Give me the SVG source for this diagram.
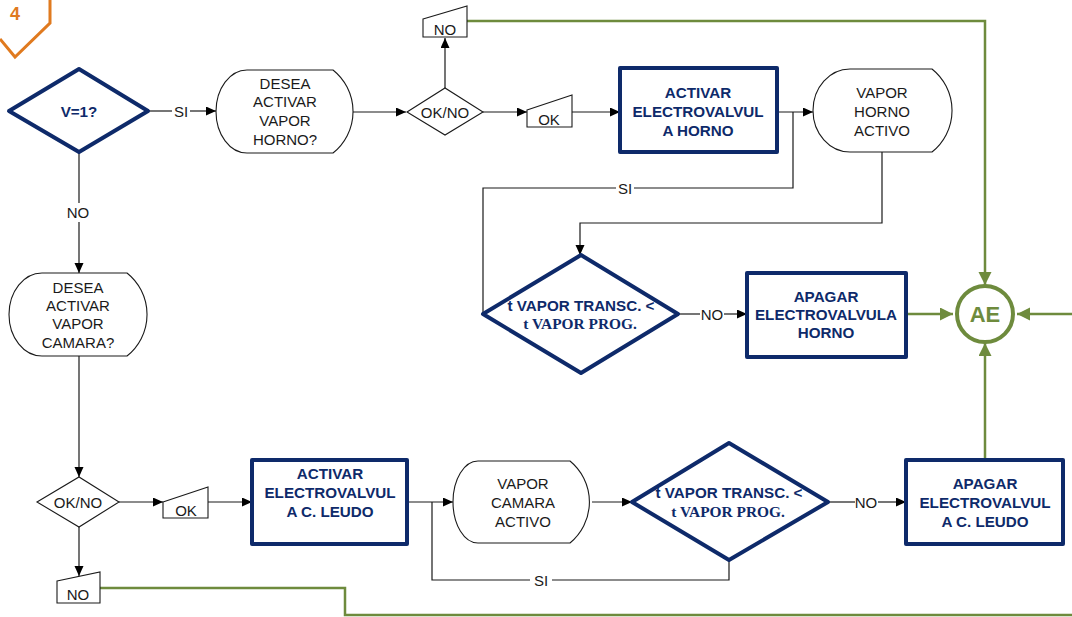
<svg xmlns="http://www.w3.org/2000/svg" width="1072" height="617" viewBox="0 0 1072 617">
  <defs>
    <style>
      .ln { fill: none; stroke: #1a1a1a; stroke-width: 1.2; }
      .gl { fill: none; stroke: #6E8B3D; stroke-width: 2.5; }
      .thin { fill: #ffffff; stroke: #1a1a1a; stroke-width: 1.1; }
      .navy { fill: #ffffff; stroke: #0E2A6A; stroke-width: 4; stroke-linejoin: round; }
      .t { font-family: "Liberation Sans", Arial, sans-serif; font-size: 15px; fill: #1a1a1a; text-anchor: middle; dominant-baseline: central; }
      .b { font-family: "Liberation Sans", Arial, sans-serif; font-size: 15.2px; font-weight: bold; fill: #0E2A6A; text-anchor: middle; dominant-baseline: central; }
      .bs { font-family: "Liberation Serif", "Times New Roman", serif; font-size: 15.4px; font-weight: bold; fill: #0E2A6A; text-anchor: middle; dominant-baseline: central; }
    </style>
    <marker id="ar" markerUnits="userSpaceOnUse" markerWidth="11" markerHeight="10" refX="10" refY="4.5" orient="auto">
      <path d="M0,0 L10,4.5 L0,9 z" fill="#000000"/>
    </marker>
    <marker id="ag" markerUnits="userSpaceOnUse" markerWidth="14" markerHeight="14" refX="13" refY="6.5" orient="auto">
      <path d="M0,0 L13,6.5 L0,13 z" fill="#6E8B3D"/>
    </marker>
  </defs>

  <!-- off-page connector -->
  <g id="offpage-4">
    <polyline points="0,39 15,57 50,23 50,0" fill="none" stroke="#E07A1F" stroke-width="3"/>
    <text x="15" y="14" font-family="Liberation Sans, Arial, sans-serif" font-size="18" font-weight="bold" fill="#E07A1F" text-anchor="middle" dominant-baseline="central">4</text>
  </g>

  <!-- connectors -->
  <g id="connectors">
    <line class="ln" x1="148" y1="111" x2="172" y2="111"/>
    <text class="t" x="181" y="111">SI</text>
    <line class="ln" x1="190" y1="111" x2="216" y2="111" marker-end="url(#ar)"/>
    <line class="ln" x1="353" y1="112" x2="406" y2="112" marker-end="url(#ar)"/>
    <line class="ln" x1="445" y1="88" x2="445" y2="38" marker-end="url(#ar)"/>
    <line class="ln" x1="483" y1="112" x2="527" y2="112" marker-end="url(#ar)"/>
    <line class="ln" x1="572" y1="112" x2="620" y2="112" marker-end="url(#ar)"/>
    <line class="ln" x1="777" y1="112" x2="813" y2="112" marker-end="url(#ar)"/>
    <polyline class="ln" points="793,112 793,188 634,188"/>
    <text class="t" x="625" y="188">SI</text>
    <polyline class="ln" points="616,188 483,188 483,314"/>
    <polyline class="ln" points="882,152 882,223 580,223 580,255" marker-end="url(#ar)"/>
    <line class="ln" x1="678" y1="314" x2="700" y2="314"/>
    <text class="t" x="712" y="314">NO</text>
    <line class="ln" x1="724" y1="314" x2="747" y2="314" marker-end="url(#ar)"/>

    <line class="ln" x1="79" y1="152" x2="79" y2="203"/>
    <text class="t" x="78" y="212">NO</text>
    <line class="ln" x1="79" y1="222" x2="79" y2="273" marker-end="url(#ar)"/>
    <line class="ln" x1="79" y1="356" x2="79" y2="477" marker-end="url(#ar)"/>
    <line class="ln" x1="119" y1="502" x2="163" y2="502" marker-end="url(#ar)"/>
    <line class="ln" x1="208" y1="502" x2="252" y2="502" marker-end="url(#ar)"/>
    <line class="ln" x1="407" y1="502" x2="453" y2="502" marker-end="url(#ar)"/>
    <polyline class="ln" points="432,502 432,580 530,580"/>
    <text class="t" x="541" y="580">SI</text>
    <polyline class="ln" points="552,580 729,580 729,560"/>
    <line class="ln" x1="592" y1="502" x2="632" y2="502" marker-end="url(#ar)"/>
    <line class="ln" x1="828" y1="502" x2="855" y2="502"/>
    <text class="t" x="866" y="502">NO</text>
    <line class="ln" x1="878" y1="502" x2="906" y2="502" marker-end="url(#ar)"/>
    <line class="ln" x1="79" y1="527" x2="79" y2="576" marker-end="url(#ar)"/>

    <polyline class="gl" points="467,21 985,21 985,285" marker-end="url(#ag)"/>
    <line class="gl" x1="906" y1="314" x2="953" y2="314" marker-end="url(#ag)"/>
    <line class="gl" x1="1072" y1="314" x2="1017" y2="314" marker-end="url(#ag)"/>
    <line class="gl" x1="985" y1="460" x2="985" y2="343" marker-end="url(#ag)"/>
    <polyline class="gl" points="100,588 345,588 345,615 1072,615"/>
  </g>

  <!-- nodes -->
  <g id="dec-v1">
    <polygon class="navy" points="79,69 148,111 79,152 9,111"/>
    <text class="b" x="79" y="111" font-size="18.5">V=1?</text>
  </g>

  <g id="ask-horno">
    <path class="thin" d="M247,70 L333,70 A53,53 0 0 1 333,153 L247,153 A31,41.5 0 0 1 247,70 Z"/>
    <text class="t" x="285" y="83">DESEA</text>
    <text class="t" x="285" y="101">ACTIVAR</text>
    <text class="t" x="285" y="120">VAPOR</text>
    <text class="t" x="285" y="139">HORNO?</text>
  </g>

  <g id="okno-horno">
    <polygon class="thin" points="407,112 445,88 483,112 445,135"/>
    <text class="t" x="445" y="112">OK/NO</text>
  </g>

  <g id="no-horno">
    <polygon class="thin" points="423,19 467,6 467,37 423,37"/>
    <text class="t" x="445" y="29">NO</text>
  </g>

  <g id="ok-horno">
    <polygon class="thin" points="527,110 572,95 572,127 527,127"/>
    <text class="t" x="549" y="119">OK</text>
  </g>

  <g id="activar-horno">
    <rect class="navy" x="620" y="68" width="157" height="84"/>
    <text class="b" x="698" y="92">ACTIVAR</text>
    <text class="b" x="698" y="111">ELECTROVALVUL</text>
    <text class="b" x="698" y="130">A HORNO</text>
  </g>

  <g id="vapor-horno">
    <path class="thin" d="M850,69 L932,69 A53,53 0 0 1 932,152 L850,152 A37,41.5 0 0 1 850,69 Z"/>
    <text class="t" x="882" y="92">VAPOR</text>
    <text class="t" x="882" y="111">HORNO</text>
    <text class="t" x="882" y="130">ACTIVO</text>
  </g>

  <g id="dec-tiempo-horno">
    <polygon class="navy" points="581,255 678,314 581,373 483,314"/>
    <text class="b" x="581" y="305">t VAPOR TRANSC. &lt;</text>
    <text class="bs" x="580" y="323">t VAPOR PROG.</text>
  </g>

  <g id="apagar-horno">
    <rect class="navy" x="747" y="273" width="159" height="84"/>
    <text class="b" x="826" y="296">APAGAR</text>
    <text class="b" x="826" y="314">ELECTROVALVULA</text>
    <text class="b" x="826" y="332">HORNO</text>
  </g>

  <g id="ae">
    <circle cx="985" cy="314" r="28" fill="#ffffff" stroke="#6E8B3D" stroke-width="4"/>
    <text x="985" y="314" font-family="Liberation Sans, Arial, sans-serif" font-size="22" font-weight="bold" fill="#6E8B3D" text-anchor="middle" dominant-baseline="central">AE</text>
  </g>

  <g id="ask-camara">
    <path class="thin" d="M42,273 L127,273 A53,53 0 0 1 127,356 L42,356 A33,41.5 0 0 1 42,273 Z"/>
    <text class="t" x="78" y="287">DESEA</text>
    <text class="t" x="78" y="305">ACTIVAR</text>
    <text class="t" x="78" y="323">VAPOR</text>
    <text class="t" x="78" y="342">CAMARA?</text>
  </g>

  <g id="okno-camara">
    <polygon class="thin" points="37,502 79,477 119,502 79,527"/>
    <text class="t" x="78" y="502">OK/NO</text>
  </g>

  <g id="ok-camara">
    <polygon class="thin" points="163,502 208,487 208,518 163,518"/>
    <text class="t" x="186" y="510">OK</text>
  </g>

  <g id="no-camara">
    <polygon class="thin" points="57,581 100,572 100,603 57,603"/>
    <text class="t" x="78" y="594">NO</text>
  </g>

  <g id="activar-camara">
    <rect class="navy" x="252" y="460" width="155" height="84"/>
    <text class="b" x="330" y="473">ACTIVAR</text>
    <text class="b" x="330" y="492">ELECTROVALVUL</text>
    <text class="b" x="330" y="511">A C. LEUDO</text>
  </g>

  <g id="vapor-camara">
    <path class="thin" d="M478,461 L570,461 A53,53 0 0 1 570,543 L478,543 A25,41 0 0 1 478,461 Z"/>
    <text class="t" x="523" y="483">VAPOR</text>
    <text class="t" x="523" y="502">CAMARA</text>
    <text class="t" x="523" y="521">ACTIVO</text>
  </g>

  <g id="dec-tiempo-camara">
    <polygon class="navy" points="729,443 828,502 729,560 632,502"/>
    <text class="b" x="729" y="492">t VAPOR TRANSC. &lt;</text>
    <text class="bs" x="728" y="511">t VAPOR PROG.</text>
  </g>

  <g id="apagar-camara">
    <rect class="navy" x="906" y="460" width="157" height="84"/>
    <text class="b" x="985" y="483">APAGAR</text>
    <text class="b" x="985" y="502">ELECTROVALVUL</text>
    <text class="b" x="985" y="521">A C. LEUDO</text>
  </g>
</svg>
